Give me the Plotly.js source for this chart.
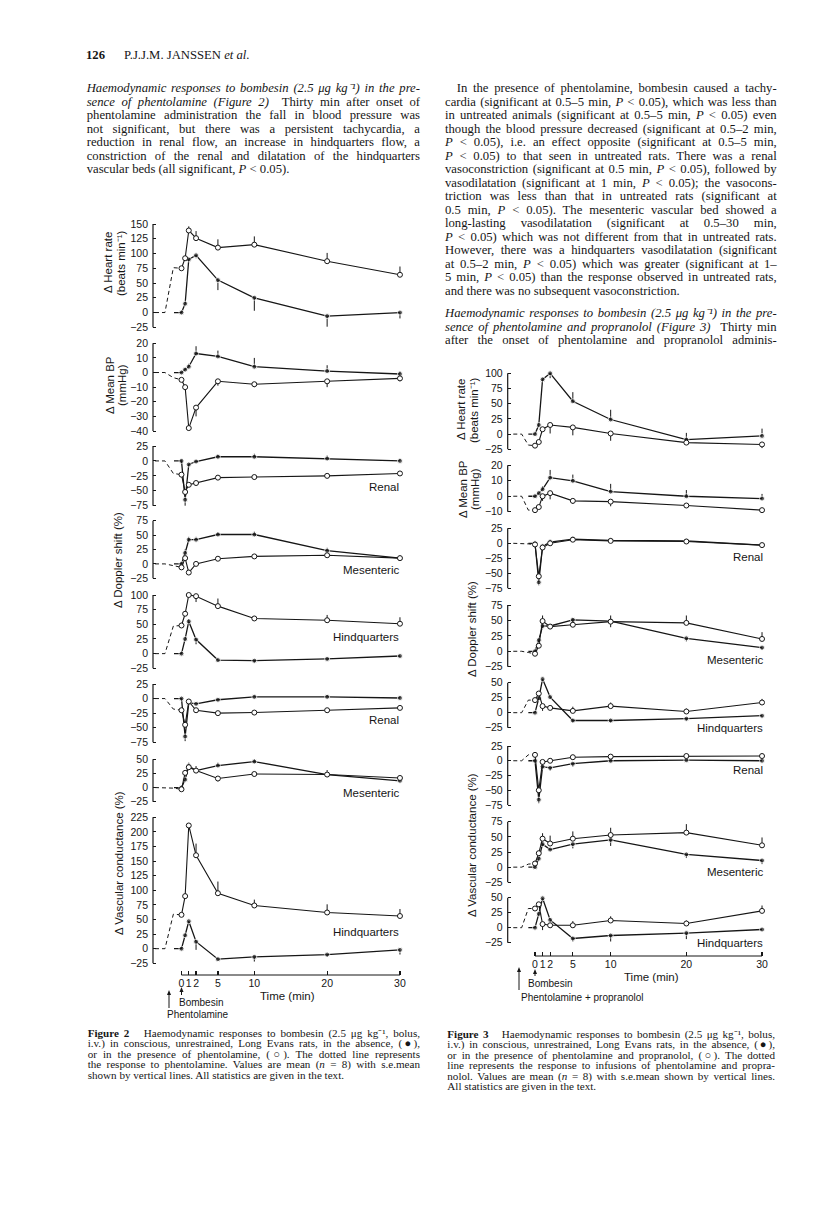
<!DOCTYPE html>
<html>
<head>
<meta charset="utf-8">
<script src="https://cdn.plot.ly/plotly-3.0.1.min.js"></script>
<style>
  body { margin: 0; background: #fff; }
  #page { position: relative; width: 816px; height: 1210px; overflow: hidden; background: #fff; }
  #chart { position: absolute; left: 0; top: 0; width: 816px; height: 1210px; }
  .col { position: absolute; font-family: "Liberation Serif", "Times New Roman", serif; font-size: 12.7px; line-height: 13.5px; color: #161616; z-index: 2; }
  .col div { height: 13.5px; white-space: nowrap; text-align: justify; text-align-last: justify; }
  .col div.end { text-align-last: left; }
  .cap { position: absolute; font-family: "Liberation Serif", "Times New Roman", serif; font-size: 11.1px; line-height: 10.5px; color: #161616; z-index: 2; }
  .cap div { height: 10.5px; white-space: nowrap; text-align: justify; text-align-last: justify; }
  .cap div.end { text-align-last: left; }
  .head { position: absolute; left: 86px; top: 48px; font-family: "Liberation Serif", serif; font-size: 12.7px; color: #161616; z-index: 2; }
</style>
</head>
<body>
<div id="page">
  <div id="chart"></div>

  <div class="head"><b>126</b>&nbsp;&nbsp;&nbsp;&nbsp;&nbsp; P.J.J.M. JANSSEN <i>et al.</i></div>

  <div class="col" style="left:86.7px; top:82.2px; width:333.3px;">
    <div><i>Haemodynamic responses to bombesin (2.5 μg kg⁻¹) in the pre-</i></div>
    <div><i>sence of phentolamine (Figure 2)</i>&nbsp; Thirty min after onset of</div>
    <div>phentolamine administration the fall in blood pressure was</div>
    <div>not significant, but there was a persistent tachycardia, a</div>
    <div>reduction in renal flow, an increase in hindquarters flow, a</div>
    <div>constriction of the renal and dilatation of the hindquarters</div>
    <div class="end">vascular beds (all significant, <i>P</i> &lt; 0.05).</div>
  </div>

  <div class="col" style="left:445px; top:82.2px; width:331.7px;">
    <div style="text-indent:11.7px">In the presence of phentolamine, bombesin caused a tachy-</div>
    <div>cardia (significant at 0.5–5 min, <i>P</i> &lt; 0.05), which was less than</div>
    <div>in untreated animals (significant at 0.5–5 min, <i>P</i> &lt; 0.05) even</div>
    <div>though the blood pressure decreased (significant at 0.5–2 min,</div>
    <div><i>P</i> &lt; 0.05), i.e. an effect opposite (significant at 0.5–5 min,</div>
    <div><i>P</i> &lt; 0.05) to that seen in untreated rats. There was a renal</div>
    <div>vasoconstriction (significant at 0.5 min, <i>P</i> &lt; 0.05), followed by</div>
    <div>vasodilatation (significant at 1 min, <i>P</i> &lt; 0.05); the vasocons-</div>
    <div>triction was less than that in untreated rats (significant at</div>
    <div>0.5 min, <i>P</i> &lt; 0.05). The mesenteric vascular bed showed a</div>
    <div>long-lasting vasodilatation (significant at 0.5–30 min,</div>
    <div><i>P</i> &lt; 0.05) which was not different from that in untreated rats.</div>
    <div>However, there was a hindquarters vasodilatation (significant</div>
    <div>at 0.5–2 min, <i>P</i> &lt; 0.05) which was greater (significant at 1–</div>
    <div>5 min, <i>P</i> &lt; 0.05) than the response observed in untreated rats,</div>
    <div class="end">and there was no subsequent vasoconstriction.</div>
  </div>

  <div class="col" style="left:445px; top:307.2px; width:331.7px;">
    <div><i>Haemodynamic responses to bombesin (2.5 μg kg⁻¹) in the pre-</i></div>
    <div><i>sence of phentolamine and propranolol (Figure 3)</i>&nbsp; Thirty min</div>
    <div>after the onset of phentolamine and propranolol adminis-</div>
  </div>

  <div class="cap" style="left:87.7px; top:1027.7px; width:332.3px;">
    <div><b>Figure 2</b>&nbsp;&nbsp; Haemodynamic responses to bombesin (2.5 μg kg⁻¹, bolus,</div>
    <div>i.v.) in conscious, unrestrained, Long Evans rats, in the absence, (●),</div>
    <div>or in the presence of phentolamine, (○). The dotted line represents</div>
    <div>the response to phentolamine. Values are mean (<i>n</i> = 8) with s.e.mean</div>
    <div class="end">shown by vertical lines. All statistics are given in the text.</div>
  </div>

  <div class="cap" style="left:447.3px; top:1028.7px; width:327.7px;">
    <div><b>Figure 3</b>&nbsp;&nbsp; Haemodynamic responses to bombesin (2.5 μg kg⁻¹, bolus,</div>
    <div>i.v.) in conscious, unrestrained, Long Evans rats, in the absence, (●),</div>
    <div>or in the presence of phentolamine and propranolol, (○). The dotted</div>
    <div>line represents the response to infusions of phentolamine and propra-</div>
    <div>nolol. Values are mean (<i>n</i> = 8) with s.e.mean shown by vertical lines.</div>
    <div class="end">All statistics are given in the text.</div>
  </div>
</div>

<script>
// time points (min) after bombesin
var T = [0, 0.5, 1, 2, 5, 10, 20, 30];
// dashed pre-treatment response (phentolamine / phentolamine + propranolol)
var preX2 = [-3.64, -2.27, -1.12, 0];
var preX3 = [-2.87, -1.76, -0.88, 0];
// start of the baseline for the untreated series
var baseX2 = -1.03;
var baseX3 = -0.88;

// Figure 2 -- filled = absence, open = presence of phentolamine
// s.e.mean: positive = bar drawn up, negative = bar drawn down
var hr2Pre = [0, 0, 76, 75];
var hr2Filled = [0, 15, 90, 97, 55, 25, -6, 0];
var hr2FilledSem = [0, 0, 0, -5, -17, -22, -18, -10];
var hr2Open = [75, 92, 139, 126, 110, 115, 87, 64];
var hr2OpenSem = [0, 0, 7, 12, 14, 14, 14, 14];

var bp2Pre = [0, 0, -3.5, -5];
var bp2Filled = [0, 2, 4, 13, 11, 4, 1, -1];
var bp2FilledSem = [0, 1, 2, 5, 4, 6, 4, 2];
var bp2Open = [-5, -10, -38, -24, -6, -8, -6, -4];
var bp2OpenSem = [0, -2, 0, -6, -3, -2, -4, -2];

var renD2Pre = [0, 0, -21, -23];
var renD2Filled = [0, -65, -6, -1, 7, 7, 4, 0];
var renD2FilledSem = [0, -10, 0, 2, 4, 5, 5, 4];
var renD2Open = [-23, -52, -40, -37, -28, -27, -25, -21];
var renD2OpenSem = [0, -5, -4, -4, -4, -4, -4, -2];

var mesD2Pre = [0, 0, -3, -6];
var mesD2Filled = [0, 19, 42, 42, 51, 51, 23, 10];
var mesD2FilledSem = [0, 6, 5, 5, 4, 5, 5, 5];
var mesD2Open = [-6, 10, -15, 0, 9, 13, 15, 10];
var mesD2OpenSem = [0, -4, -3, -3, -3, -3, -3, -3];

var hinD2Pre = [0, 0, 47, 48];
var hinD2Filled = [0, 25, 55, 24, -11, -12, -9, -4];
var hinD2FilledSem = [0, 0, 4, -8, 0, -3, -2, -2];
var hinD2Open = [48, 68, 100, 98, 81, 60, 57, 51];
var hinD2OpenSem = [0, 0, 0, -10, 13, 4, 9, 11];

var renV2Pre = [0, 0, -18, -20];
var renV2Filled = [0, -65, -7, -9, -2, 3, 3, 1];
var renV2FilledSem = [0, -8, 6, 0, 0, 2, 3, 3];
var renV2Open = [-20, -45, -5, -20, -25, -24, -20, -16];
var renV2OpenSem = [0, 0, 0, -3, -4, -3, -3, -3];

var mesV2Pre = [0, 0, -1, -3];
var mesV2Filled = [0, 14, 38, 30, 39, 46, 23, 12];
var mesV2FilledSem = [0, 0, 6, 8, 5, 4, 8, 5];
var mesV2Open = [-3, 26, 36, 30, 16, 24, 23, 17];
var mesV2OpenSem = [0, 0, 0, 0, -5, -4, -3, -3];

var hinV2Pre = [0, 0, 59, 58];
var hinV2Filled = [0, 23, 47, 12, -18, -14, -10, -2];
var hinV2FilledSem = [0, 0, 0, -14, 0, -8, -4, -8];
var hinV2Open = [58, 90, 211, 160, 95, 74, 62, 56];
var hinV2OpenSem = [0, 0, 0, 20, 20, 10, 14, 12];

// Figure 3 -- filled = absence, open = presence of phentolamine + propranolol
var hr3Pre = [0, 0, -18, -19];
var hr3Filled = [0, 15, 90, 100, 54, 24, -9, -3];
var hr3FilledSem = [0, 0, 0, -8, 15, 16, 11, 12];
var hr3Open = [-19, -13, 8, 15, 11, 1, -14, -17];
var hr3OpenSem = [0, 0, 0, -14, -13, -12, 0, -6];

var bp3Pre = [0, 0, -9, -9];
var bp3Filled = [0, 2, 4.5, 12, 10, 3, 0, -1.5];
var bp3FilledSem = [0, 0, 2, 5, 4, 5, 4, 3];
var bp3Open = [-9, -7, 0, 2, -3, -3.5, -6, -9];
var bp3OpenSem = [0, 0, -3, -4, -2, -3, 0, 0];

var renD3Pre = [0, 0, -1, -2];
var renD3Filled = [0, -65, -5, 2, 7, 5, 4, -3];
var renD3FilledSem = [0, -5, 0, 4, 4, 0, 0, 0];
var renD3Open = [-2, -55, -7, 0, 6, 4, 3, -3];
var renD3OpenSem = [0, 0, -3, -3, 0, 0, 0, 0];

var mesD3Pre = [0, 0, -2, -4];
var mesD3Filled = [0, 18, 41, 41, 51, 49, 21, 6];
var mesD3FilledSem = [0, 0, 0, -5, 0, -10, -5, -4];
var mesD3Open = [-4, 9, 49, 40, 43, 48, 46, 20];
var mesD3OpenSem = [0, 0, 9, 0, 10, 10, 12, 11];

var hinD3Pre = [0, 0, 21, 21];
var hinD3Filled = [0, 24, 56, 26, -13, -13, -10, -5];
var hinD3FilledSem = [0, 0, 0, 0, -3, -3, -3, -3];
var hinD3Open = [21, 32, 11, 8, 3, 11, 2, 17];
var hinD3OpenSem = [0, 0, -8, 0, 7, 6, 5, 6];

var renV3Pre = [0, 0, 10, 10];
var renV3Filled = [0, -66, -10, -12, -5, 0, 1, 0];
var renV3FilledSem = [0, -6, 0, -5, -5, 0, 0, 0];
var renV3Open = [10, -50, -2, 0, 6, 7, 8, 8];
var renV3OpenSem = [0, 0, 0, 0, 4, 4, 4, 4];

var mesV3Pre = [0, 0, 5, 6];
var mesV3Filled = [0, 14, 38, 29, 38, 45, 21, 11];
var mesV3FilledSem = [0, 0, 0, 0, -7, -10, -6, -6];
var mesV3Open = [6, 23, 47, 39, 47, 53, 57, 36];
var mesV3OpenSem = [0, 0, 9, 13, 12, 12, 14, 13];

var hinV3Pre = [0, 0, 32, 32];
var hinV3Filled = [0, 23, 49, 13, -18, -13, -9, -3];
var hinV3FilledSem = [0, 0, 0, 0, -5, -10, -10, 0];
var hinV3Open = [32, 39, 6, 4, 4, 12, 7, 28];
var hinV3OpenSem = [0, 0, -10, 0, 7, 7, 5, 9];

var xTicks = [0, 1, 2, 5, 10, 20, 30];

// page geometry (pixels) of each panel's y axis: top tick, bottom tick
var panels = [
  {top: 224,   bot: 327.3, lo: -25, hi: 150, dt: 25, pre: hr2Pre,   f: hr2Filled,   fs: hr2FilledSem,   o: hr2Open,   os: hr2OpenSem},
  {top: 343.3, bot: 431,   lo: -40, hi: 20,  dt: 10, pre: bp2Pre,   f: bp2Filled,   fs: bp2FilledSem,   o: bp2Open,   os: bp2OpenSem},
  {top: 446,   bot: 505.7, lo: -75, hi: 25,  dt: 25, pre: renD2Pre, f: renD2Filled, fs: renD2FilledSem, o: renD2Open, os: renD2OpenSem, label: 'Renal', ly: 487},
  {top: 520.7, bot: 578.3, lo: -25, hi: 75,  dt: 25, pre: mesD2Pre, f: mesD2Filled, fs: mesD2FilledSem, o: mesD2Open, os: mesD2OpenSem, label: 'Mesenteric', ly: 570},
  {top: 595,   bot: 668.3, lo: -25, hi: 100, dt: 25, pre: hinD2Pre, f: hinD2Filled, fs: hinD2FilledSem, o: hinD2Open, os: hinD2OpenSem, label: 'Hindquarters', ly: 637},
  {top: 684,   bot: 742.3, lo: -75, hi: 25,  dt: 25, pre: renV2Pre, f: renV2Filled, fs: renV2FilledSem, o: renV2Open, os: renV2OpenSem, label: 'Renal', ly: 720},
  {top: 759.3, bot: 801.7, lo: -25, hi: 50,  dt: 25, pre: mesV2Pre, f: mesV2Filled, fs: mesV2FilledSem, o: mesV2Open, os: mesV2OpenSem, label: 'Mesenteric', ly: 793},
  {top: 817.3, bot: 963.3, lo: -25, hi: 225, dt: 25, pre: hinV2Pre, f: hinV2Filled, fs: hinV2FilledSem, o: hinV2Open, os: hinV2OpenSem, label: 'Hindquarters', ly: 932},

  {top: 373.3, bot: 449.3, lo: -25, hi: 100, dt: 25, pre: hr3Pre,   f: hr3Filled,   fs: hr3FilledSem,   o: hr3Open,   os: hr3OpenSem},
  {top: 465.3, bot: 511.7, lo: -10, hi: 20,  dt: 10, pre: bp3Pre,   f: bp3Filled,   fs: bp3FilledSem,   o: bp3Open,   os: bp3OpenSem},
  {top: 528.3, bot: 588.3, lo: -75, hi: 25,  dt: 25, pre: renD3Pre, f: renD3Filled, fs: renD3FilledSem, o: renD3Open, os: renD3OpenSem, label: 'Renal', ly: 557},
  {top: 605,   bot: 666.7, lo: -25, hi: 75,  dt: 25, pre: mesD3Pre, f: mesD3Filled, fs: mesD3FilledSem, o: mesD3Open, os: mesD3OpenSem, label: 'Mesenteric', ly: 660},
  {top: 682.7, bot: 727.7, lo: -25, hi: 50,  dt: 25, pre: hinD3Pre, f: hinD3Filled, fs: hinD3FilledSem, o: hinD3Open, os: hinD3OpenSem, label: 'Hindquarters', ly: 728},
  {top: 746,   bot: 805,   lo: -75, hi: 25,  dt: 25, pre: renV3Pre, f: renV3Filled, fs: renV3FilledSem, o: renV3Open, os: renV3OpenSem, label: 'Renal', ly: 770},
  {top: 821.7, bot: 882.3, lo: -25, hi: 75,  dt: 25, pre: mesV3Pre, f: mesV3Filled, fs: mesV3FilledSem, o: mesV3Open, os: mesV3OpenSem, label: 'Mesenteric', ly: 872},
  {top: 897.7, bot: 942.7, lo: -25, hi: 50,  dt: 25, pre: hinV3Pre, f: hinV3Filled, fs: hinV3FilledSem, o: hinV3Open, os: hinV3OpenSem, label: 'Hindquarters', ly: 943}
];

var W = 816, H = 1210;
var INK = '#161616';
var SANS = 'Liberation Sans, Arial, sans-serif';
var SPARE = 8; // px of room above/below each axis so peaks are not clipped
function px(x) { return x / W; }
function py(y) { return 1 - y / H; }

function errBars(sem) {
  return {
    type: 'data', symmetric: false, visible: true,
    array: sem.map(function (e) { return e > 0 ? e : 0; }),
    arrayminus: sem.map(function (e) { return e < 0 ? -e : 0; }),
    width: 0, thickness: 1, color: INK
  };
}
function tickList(lo, hi, dt) {
  var out = [];
  for (var v = lo; v <= hi + 1e-9; v += dt) out.push(v);
  return out;
}

var data = [];
var layout = {
  width: W, height: H,
  margin: {l: 0, r: 0, t: 0, b: 0},
  paper_bgcolor: 'rgba(0,0,0,0)',
  plot_bgcolor: 'rgba(0,0,0,0)',
  showlegend: false,
  font: {family: SANS, size: 10.5, color: INK},
  // Figure 2 time axis: y axis at 153px, t=0 at 181.5px, t=30 at 400px
  xaxis: {
    domain: [px(153), px(403.6)], range: [-3.913, 30.5],
    anchor: 'free', position: py(975),
    showline: false, showgrid: false, zeroline: false,
    ticks: 'inside', ticklen: 4, tickwidth: 1.2, tickcolor: INK,
    tickvals: xTicks, tickangle: 0, tickfont: {size: 10.5}
  },
  // Figure 3 time axis: y axis at 507.7px, t=0 at 535px, t=30 at 762px
  xaxis2: {
    domain: [px(507.7), px(765.8)], range: [-3.608, 30.5],
    anchor: 'free', position: py(956),
    showline: false, showgrid: false, zeroline: false,
    ticks: 'inside', ticklen: 4, tickwidth: 1.2, tickcolor: INK,
    tickvals: xTicks, tickangle: 0, tickfont: {size: 10.5}
  },
  shapes: [
    {type: 'line', xref: 'x', yref: 'paper', x0: 0, x1: 30, y0: py(975), y1: py(975), line: {color: INK, width: 1.2}},
    {type: 'line', xref: 'x2', yref: 'paper', x0: 0, x1: 30, y0: py(956), y1: py(956), line: {color: INK, width: 1.2}}
  ],
  annotations: []
};

panels.forEach(function (p, i) {
  var n = i + 1;
  var fig2 = i < 8;
  var xName = fig2 ? 'x' : 'x2';
  var yName = n === 1 ? 'y' : 'y' + n;
  var axKey = n === 1 ? 'yaxis' : 'yaxis' + n;
  var perUnit = (p.bot - p.top) / (p.hi - p.lo);
  var padU = SPARE / perUnit;

  layout[axKey] = {
    domain: [py(p.bot + SPARE), py(p.top - SPARE)],
    range: [p.lo - padU, p.hi + padU],
    anchor: xName,
    showline: false,
    ticks: 'inside', ticklen: 3, tickwidth: 1, tickcolor: INK,
    ticklabelstandoff: 4,
    tickvals: tickList(p.lo, p.hi, p.dt),
    showgrid: false, zeroline: false,
    tickfont: {size: 10.5}
  };
  // axis line only from bottom tick to top tick
  var axX = fig2 ? 153 : 507.7;
  layout.shapes.push({type: 'line', xref: 'paper', yref: yName,
    x0: px(axX), x1: px(axX), y0: p.lo, y1: p.hi, line: {color: INK, width: 1.2}});

  var preX = fig2 ? preX2 : preX3;
  var base = fig2 ? baseX2 : baseX3;

  data.push({
    x: preX, y: p.pre, xaxis: xName, yaxis: yName,
    mode: 'lines', line: {color: INK, width: 1, dash: '4px,3px'},
    hoverinfo: 'skip'
  });
  data.push({
    x: [base].concat(T), y: [0].concat(p.f), xaxis: xName, yaxis: yName,
    mode: 'lines+markers', cliponaxis: false,
    line: {color: INK, width: 1.3},
    marker: {color: INK, size: [0].concat(T.map(function () { return 5; }))},
    error_y: errBars([0].concat(p.fs))
  });
  data.push({
    x: T, y: p.o, xaxis: xName, yaxis: yName,
    mode: 'lines+markers', cliponaxis: false,
    line: {color: INK, width: 1.1},
    marker: {color: '#fff', size: 5, line: {color: INK, width: 1}},
    error_y: errBars(p.os)
  });

  if (p.label) {
    layout.annotations.push({
      text: p.label, xref: 'paper', yref: 'paper',
      x: px(fig2 ? 401 : 765), y: py(p.ly),
      xanchor: 'right', yanchor: 'middle', showarrow: false,
      font: {size: 11.5}
    });
  }
});

function note(text, x, y, opts) {
  var a = {text: text, xref: 'paper', yref: 'paper', x: px(x), y: py(y),
    xanchor: 'center', yanchor: 'middle', showarrow: false, font: {size: 11.5}};
  for (var k in opts) a[k] = opts[k];
  layout.annotations.push(a);
}
// injection arrows drawn as a shaft and a small head
function arrow(x, yHead, len) {
  layout.shapes.push({type: 'line', xref: 'paper', yref: 'paper',
    x0: px(x), x1: px(x), y0: py(yHead + 3), y1: py(yHead + len), line: {color: INK, width: 1}});
  layout.shapes.push({type: 'path', xref: 'paper', yref: 'paper',
    path: 'M ' + px(x) + ' ' + py(yHead) + ' L ' + px(x - 2) + ' ' + py(yHead + 5) +
          ' L ' + px(x + 2) + ' ' + py(yHead + 5) + ' Z',
    fillcolor: INK, line: {width: 0}});
}

// axis titles, one annotation per line
var rot = {textangle: -90};
note('Δ Heart rate', 108, 263, rot);
note('(beats min⁻¹)', 121, 263, rot);
note('Δ Mean BP', 110, 385, rot);
note('(mmHg)', 122, 385, rot);
note('Δ Doppler shift (%)', 118, 560, rot);
note('Δ Vascular conductance (%)', 119, 863, rot);
note('Δ Heart rate', 461, 410, rot);
note('(beats min⁻¹)', 474, 410, rot);
note('Δ Mean BP', 463, 489, rot);
note('(mmHg)', 475, 489, rot);
note('Δ Doppler shift (%)', 472, 629, rot);
note('Δ Vascular conductance (%)', 472, 845, rot);

note('Time (min)', 287, 996);
note('Time (min)', 651, 977);
note('Bombesin', 201, 1003, {font: {size: 10}});
note('Phentolamine', 198, 1014, {font: {size: 10}});
note('Bombesin', 550, 983, {font: {size: 10}});
note('Phentolamine + propranolol', 582, 997, {font: {size: 10}});

arrow(169, 990, 18);
arrow(181.5, 987, 8);
arrow(519, 967, 23);
arrow(535, 969, 7);

Plotly.newPlot('chart', data, layout, {staticPlot: true});
</script>
</body>
</html>
